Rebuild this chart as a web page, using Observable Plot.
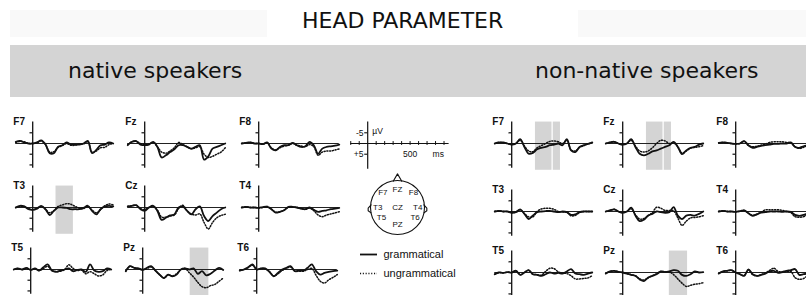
<!DOCTYPE html>
<html><head><meta charset="utf-8">
<script src="https://cdn.jsdelivr.net/npm/d3@7"></script>
<script src="https://cdn.jsdelivr.net/npm/@observablehq/plot@0.6"></script>
<style>
body{margin:0;background:#fff;}
#root{position:relative;width:806px;height:295px;overflow:hidden;font-family:"DejaVu Sans";background:#fff;}
.abs{position:absolute;}
.hdr{position:absolute;font-family:"DejaVu Sans";font-size:22px;color:#111;white-space:nowrap;line-height:1;}
</style></head><body><div id="root"></div>
<script>
// time samples (ms)
const times = [-200,-150,-100,-50,0,50,100,150,200,250,300,350,400,450,500,550,600,650,700,750,800,850,900,950];
const electrodes = ["F7","Fz","F8","T3","Cz","T4","T5","Pz","T6"];
const conditions = ["grammatical","ungrammatical"];
const groups = ["native speakers","non-native speakers"];
const title = "HEAD PARAMETER";

// native speakers (µV, negative plotted up)
const nativeF7G = [-0.8,-1.2,-0.5,0,0,-0.5,-1.5,0.3,4.5,4.5,1.5,0.8,-0.5,0.5,0.5,0.5,0,-1.2,4.5,3,0.8,0.5,-0.5,0];
const nativeF7U = [-0.5,-1,-0.8,0,0,-0.3,-1.2,0.5,4,3.8,1.8,1,0,0.8,0.8,0.3,0.2,-0.8,4,3.5,2,1.8,0.5,0];
const nativeFzG = [0.8,-0.8,-1.1,0.5,0.8,0.5,-0.8,1.6,6.5,5.5,4,2.7,0.8,0.8,1.6,2.4,1.6,0.8,7.5,6,2.4,1.6,0.8,0];
const nativeFzU = [0.5,-0.8,-1,0,0.5,0.3,-0.5,1.5,4,4.5,3.5,2,-0.5,0.5,1.5,2.5,2,1.5,5,6.5,6,5,4,2];
const nativeF8G = [0,-0.3,-0.5,0,0,0.3,-0.5,2.4,3.2,1.6,0.8,0.8,-0.3,0.8,1.6,1.3,-0.8,0.8,4.8,2.4,1.6,1.3,1,0.5];
const nativeF8U = [0,-0.3,-0.5,0,0,0.3,-0.3,2,3,2,1.2,0.8,0,0.8,1.2,1.5,0.5,1.5,5.5,4,3.5,3.5,3,2.5];
const nativeT3G = [0,-0.8,-0.5,0.8,1.1,0.5,-0.8,0.8,3.5,1.6,0,0,0.2,0.8,0.8,0.8,0.2,-0.8,1.6,3.2,0.8,-0.5,-0.8,-0.5];
const nativeT3U = [0,-0.5,-0.5,0.5,1,0.5,-0.5,0.8,2.5,1.5,-0.5,-1.2,-1.8,-1.5,-0.5,0.3,0.5,-0.5,1.2,2.5,1,-0.8,-1.6,-1.2];
const nativeCzG = [-0.5,-0.8,-1.1,0.8,1.5,0,-0.8,1.6,5.8,4.8,3.7,3.2,0,-0.5,1.6,3.2,0.8,-0.5,4,6.3,4,2.4,0.8,0];
const nativeCzU = [-0.5,-0.8,-1,0.5,1,0,-0.5,1.2,4.5,4.5,4,3.5,0.5,-1,1.5,3,3.5,3,7,10,7,4.8,3.7,3.2];
const nativeT4G = [0,-0.3,0,0,0.2,-0.2,-0.3,0.8,2.4,2,1.3,-0.3,-0.3,0,0.5,0.8,0,1.1,2,1.6,1.3,0.8,0.5,0.2];
const nativeT4U = [0,-0.3,0,0,0.2,0,-0.5,0.8,2.2,2,1.2,0,-0.2,0,0.5,0.8,0.3,1.5,3.5,4.3,3.5,3,2.5,2];
const nativeT5G = [0,-0.5,0,-0.8,0.2,-0.5,0.5,-1.1,-2.4,0.5,1.1,0.5,0,-0.5,0.8,0.2,0,1.1,-2.4,0.5,1.1,0.8,-0.5,0];
const nativeT5U = [0,-0.5,0,-0.5,0,-0.3,0.5,-0.5,-1.5,0.5,1,0.8,0,-2.2,-0.5,0.5,0.3,2,1,2,3,2.5,0.5,0];
const nativePzG = [0.8,-1.6,-0.8,-0.5,0.2,-0.8,-1.6,0.5,2.4,4,2.4,3.2,2.4,0,-0.5,0,-0.5,2,0.8,2.7,2,0.5,-0.8,0.2];
const nativePzU = [0.8,-1.5,-0.8,-0.5,0,-0.5,-1.2,0.5,2.5,4,2.5,3,2,0,-0.5,1.5,3.5,6,8,8.5,7.5,7,5.5,4];
const nativeT6G = [0.5,0,-1,-2.4,0,-0.5,-0.5,1.1,3.2,1.6,0,-0.8,-1.6,0.8,0.5,0.5,-0.8,-2.4,0.8,2.4,1.6,1.1,0.8,0.5];
const nativeT6U = [0.5,0,-1,-2,0,-0.5,-0.3,1,3,2,0.5,-0.5,-1.2,0.8,0.8,0.8,0,-0.5,2.7,5.5,6.3,4.8,3.7,2.4];

// non-native speakers
const nonNativeF7G = [0,-0.5,-0.5,0,0.5,0,-2,1.6,4.8,4.4,2.7,2,1.6,0.8,0.5,0,0.8,-2,3.2,4,1.6,0.8,0.2,-0.5];
const nonNativeF7U = [0,-0.5,-0.3,0,0.5,0,-1.5,1.2,3.5,3.8,2,1,0,-1,-1.2,-0.8,0,-1.5,3,3.5,1.8,1,0.2,-0.3];
const nonNativeFzG = [0,-0.5,-0.8,0,0.5,0,-2,1.6,4.8,5.5,4.8,3.7,3.2,2.4,1.6,0.8,-0.8,1.6,5,3.2,2,1.6,0.5,0];
const nonNativeFzU = [0,-0.5,-0.8,0,0.5,0,-1.5,1.2,3.5,4,3.5,2,0,-1.5,-1.2,0,-0.3,1.5,4.5,3.5,2.2,1.8,1.5,1];
const nonNativeF8G = [-0.3,-0.5,-0.3,0,0.2,0,-1.1,0.8,2,1.6,1.1,0.8,0.5,0.2,0.2,0,0,-0.5,1.6,2,1.3,0.8,0.5,0.2];
const nonNativeF8U = [-0.3,-0.5,-0.3,0,0.2,0,-1,1,1.5,1.3,0.8,0.3,-0.5,-0.8,-0.8,-0.8,-0.5,-0.3,1.5,2.3,1.8,1,0.5,0.2];
const nonNativeT3G = [0,-0.3,0,0,0.6,0.3,-1,1.1,3.5,1.9,0.3,0,-0.2,-0.3,0,0.3,0,0.3,1.6,1.3,0.3,0,0,0];
const nonNativeT3U = [0,-0.3,0,0,0.5,0.3,-0.8,1,2.5,2.5,0,-1.2,-1.5,-1.5,-1,0,0.2,0.3,2,1.8,0.5,0,0,0];
const nonNativeCzG = [0,-0.5,-1,0,0.6,0,-1.8,1.9,4.5,3.8,1.9,1.1,0,0.3,0.6,0.3,-2,1.9,3.5,1.9,1.6,1.9,1.1,0];
const nonNativeCzU = [0,-0.5,-1,0,0.5,0,-1.3,1.5,3.5,3.3,2,0.5,-2,-1.5,-0.5,-0.5,-0.3,3,6.5,4.5,3,2.8,2.5,2];
const nonNativeT4G = [0,-0.3,0,0,0.2,-0.2,-0.5,0.8,2,1.3,0.5,0.3,0,0,0,0.2,0,0.2,1.6,2,1.6,1,0.5,0.3];
const nonNativeT4U = [0,-0.3,0,0,0.2,-0.2,-0.5,0.8,1.8,1.3,0.3,-0.8,-0.8,-0.8,-0.8,-0.5,0,0.5,2.4,2.7,2.4,1.5,1,0.5];
const nonNativeT5G = [0.8,0,0.2,-0.2,0,-0.8,1.1,0,-1.1,0.8,1.1,1.6,0.8,0,0.5,0.2,0.5,-0.5,-1.6,0.5,0.8,1.1,0.5,0];
const nonNativeT5U = [0.8,0,0.2,-0.2,0,-0.8,1,0,-1,0.8,1,1.2,-0.5,-2,-1.8,-0.3,0.3,0.5,1.5,3,3,2.8,2.5,1.5];
const nonNativePzG = [0.5,-0.5,-0.8,-0.3,0,0.5,1.1,1.6,3.2,4,2.4,1.6,0.8,-0.5,-0.2,-0.5,-1.1,-0.8,1.1,1.6,0.8,-0.5,0,-0.2];
const nonNativePzU = [0.5,-0.5,-0.8,-0.3,0,0.5,1,1.5,3,3.5,2.5,1.5,0.5,-0.5,-0.3,-0.3,1,3,5,6.5,6,5.5,5.2,4.8];
const nonNativeT6G = [0.5,-0.5,-0.8,-1.1,0,0.8,1.6,-1.5,0.8,1.6,1.1,0.5,-0.5,-0.8,0.2,-0.2,-0.8,-1.1,-1.6,1.1,0.8,0.5,0.3,0];
const nonNativeT6U = [0.5,-0.5,-0.8,-1,0,0.8,1.4,-1.2,1,1.5,1,0.2,-1,-2,-0.5,-0.3,-0.5,-0.5,2.4,3.2,2.8,1.5,1,0.5];

// significant time windows (ms)
const nativeT3Window = [[275, 480]];
const nativePzWindow = [[560, 780]];
const nonNativeF7Windows = [[280, 475], [490, 575]];
const nonNativeFzWindows = [[280, 475], [490, 575]];
const nonNativePzWindow = [[550, 765]];

// scale-bar ticks and labels
const scaleTimeTicks = [-200,-100,100,200,300,400,500,600,700,800,900];
const scaleVoltTicks = [-5, 5];
const scaleVoltLabels = ["-5", "+5"];
const scaleTimeLabel = "500";

// electrode montage (unit head radius, y downward = posterior)
const montageNames = ["F7","FZ","F8","T3","CZ","T4","T5","T6","PZ"];
const montageX = [-0.55, 0, 0.6, -0.74, 0, 0.76, -0.6, 0.66, 0];
const montageY = [-0.55, -0.66, -0.55, 0.0, -0.02, 0.0, 0.38, 0.38, 0.64];

const root = document.getElementById("root");
function place(node, left, top) {
  node.style.position = "absolute";
  node.style.left = left + "px";
  node.style.top = top + "px";
  root.appendChild(node);
}
function div(cls, left, top, w, h, bg) {
  const d = document.createElement("div");
  d.className = cls;
  Object.assign(d.style, {left: left+"px", top: top+"px", width: w+"px", height: h+"px", background: bg, position: "absolute"});
  root.appendChild(d);
  return d;
}

// header backgrounds
div("abs", 10, 10, 796, 27, "#f9f9f9");
div("abs", 267, 10, 311, 27, "#ffffff");
div("abs", 10, 45, 796, 52, "#d4d4d4");
const t = document.createElement("div"); t.className = "hdr"; t.textContent = title; place(t, 302, 10);
const g1 = document.createElement("div"); g1.className = "hdr"; g1.textContent = groups[0]; place(g1, 68, 60);
const g2 = document.createElement("div"); g2.className = "hdr"; g2.textContent = groups[1]; place(g2, 535, 60);

// panel geometry
const PW = 106, PH = 60;
const X0 = -250, X1 = 1000, Y0 = 14, Y1 = -14;
const axisOffset = (0 - X0) * PW / (X1 - X0);
const baseOffset = PH / 2;

function erpPanel(label, g, u, windows, axisX, baseY) {
  const gd = times.map((t, i) => ({t, v: g[i]}));
  const ud = times.map((t, i) => ({t, v: u[i]}));
  const svg = Plot.plot({
    width: PW, height: PH, margin: 0,
    style: {background: "transparent", overflow: "visible"},
    x: {domain: [X0, X1], axis: null},
    y: {domain: [Y0, Y1], axis: null},
    marks: [
      Plot.rect(windows, {x1: d => d[0], x2: d => d[1], y1: -10, y2: 12.5, fill: "#d4d4d4"}),
      Plot.ruleY([0], {x1: -200, x2: 950, stroke: "#222", strokeWidth: 1}),
      Plot.ruleX([0], {y1: -10, y2: 11.5, stroke: "#111", strokeWidth: 1.3}),
      Plot.ruleY([-5, 5, 10], {x1: -32, x2: 0, stroke: "#111", strokeWidth: 1.2}),
      Plot.line(ud, {x: "t", y: "v", stroke: "#111", strokeWidth: 1.5, strokeDasharray: "1.1,1.7", curve: "catmull-rom"}),
      Plot.line(gd, {x: "t", y: "v", stroke: "#111", strokeWidth: 1.8, curve: "catmull-rom"}),
      Plot.text([label], {x: -228, y: -10.3, text: d => d, textAnchor: "start", fontFamily: "Liberation Sans", fontWeight: 900, fontSize: 10, fill: "#111", letterSpacing: -0.5})
    ]
  });
  place(svg, axisX - axisOffset, baseY - baseOffset);
}

const nativeSeries = [
  [nativeF7G, nativeF7U, []], [nativeFzG, nativeFzU, []], [nativeF8G, nativeF8U, []],
  [nativeT3G, nativeT3U, nativeT3Window], [nativeCzG, nativeCzU, []], [nativeT4G, nativeT4U, []],
  [nativeT5G, nativeT5U, []], [nativePzG, nativePzU, nativePzWindow], [nativeT6G, nativeT6U, []]
];
const nonNativeSeries = [
  [nonNativeF7G, nonNativeF7U, nonNativeF7Windows], [nonNativeFzG, nonNativeFzU, nonNativeFzWindows], [nonNativeF8G, nonNativeF8U, []],
  [nonNativeT3G, nonNativeT3U, []], [nonNativeCzG, nonNativeCzU, []], [nonNativeT4G, nonNativeT4U, []],
  [nonNativeT5G, nonNativeT5U, []], [nonNativePzG, nonNativePzU, nonNativePzWindow], [nonNativeT6G, nonNativeT6U, []]
];
const nativeAxisX = [[32,144,258],[32,144,258],[30,142,256]];
const nativeBaseY = [143, 207, 269];
const nnAxisX = [[511,622,735],[511,622,735],[511,622,735]];
const nnBaseY = [143, 211, 272];

electrodes.forEach((e, i) => {
  const r = Math.floor(i / 3), c = i % 3;
  const [ng, nu, nw] = nativeSeries[i];
  erpPanel(e, ng, nu, nw, nativeAxisX[r][c], nativeBaseY[r]);
  const [mg, mu, mw] = nonNativeSeries[i];
  erpPanel(e, mg, mu, mw, nnAxisX[r][c], nnBaseY[r]);
});

// scale bar
{
  const svg = Plot.plot({
    width: PW + 20, height: PH, margin: 0, marginRight: 20,
    style: {background: "transparent", overflow: "visible"},
    x: {domain: [X0, X1], axis: null},
    y: {domain: [Y0, Y1], axis: null},
    marks: [
      Plot.ruleX([0], {y1: -10, y2: 12, stroke: "#111", strokeWidth: 1.2}),
      Plot.ruleY([0], {x1: -200, x2: 960, stroke: "#111", strokeWidth: 1.2}),
      Plot.ruleX(scaleTimeTicks, {y1: -0.9, y2: 0.9, stroke: "#111", strokeWidth: 1}),
      Plot.ruleY(scaleVoltTicks, {x1: -35, x2: 0, stroke: "#111", strokeWidth: 1.1}),
      Plot.text(scaleVoltTicks, {x: -50, y: d => d, text: (d, i) => scaleVoltLabels[i], textAnchor: "end", fontFamily: "Liberation Sans", fontSize: 8.5, fill: "#111"}),
      Plot.text([scaleTimeLabel], {x: 500, y: 4.8, text: d => d, fontFamily: "Liberation Sans", fontSize: 8.5, letterSpacing: -0.6, fill: "#111"}),
      Plot.text(["ms"], {x: 765, y: 4.8, text: d => d, textAnchor: "start", fontFamily: "Liberation Sans", fontSize: 8.5, fill: "#111"}),
      Plot.text(["µV"], {x: 55, y: -5.5, text: d => d, textAnchor: "start", fontFamily: "Liberation Sans", fontSize: 8.5, fill: "#111"})
    ]
  });
  place(svg, 367 - axisOffset, 143 - baseOffset);
}

// head diagram
{
  const HS = 80, HD = 1.5;
  const svg = Plot.plot({
    width: HS, height: HS, margin: 0,
    style: {background: "transparent", overflow: "visible"},
    x: {domain: [-HD, HD], axis: null},
    y: {domain: [HD, -HD], axis: null},
    marks: [
      Plot.line([[-0.16,-0.985],[0,-1.26],[0.16,-0.985]], {x: d => d[0], y: d => d[1], stroke: "#111", strokeWidth: 1.1}),
      Plot.line([[-0.99,-0.1],[-1.1,0.02],[-1.1,0.12],[-0.99,0.2]], {x: d => d[0], y: d => d[1], stroke: "#111", strokeWidth: 1.1}),
      Plot.line([[0.99,-0.1],[1.1,0.02],[1.1,0.12],[0.99,0.2]], {x: d => d[0], y: d => d[1], stroke: "#111", strokeWidth: 1.1}),
      Plot.dot([0], {x: 0, y: 0, r: 27, stroke: "#111", strokeWidth: 1.1, fill: "none"}),
      Plot.text(montageNames, {x: (d, i) => montageX[i], y: (d, i) => montageY[i], text: d => d, fontFamily: "Liberation Sans", fontSize: 8, fill: "#111"})
    ]
  });
  place(svg, 397 - HS/2, 207 - HS/2);
}

// condition legend
{
  const svg = Plot.plot({
    width: 120, height: 40, margin: 0,
    style: {background: "transparent", overflow: "visible"},
    x: {domain: [0, 120], axis: null},
    y: {domain: [40, 0], axis: null},
    marks: [
      Plot.ruleY([conditions[0]], {y: 10, x1: 5, x2: 22, stroke: "#111", strokeWidth: 1.8}),
      Plot.ruleY([conditions[1]], {y: 29, x1: 5, x2: 22, stroke: "#111", strokeWidth: 1.5, strokeDasharray: "1.1,1.7"}),
      Plot.text(conditions, {x: 28, y: (d, i) => 10 + i * 19, text: d => d, textAnchor: "start", fontFamily: "Liberation Sans", fontSize: 11, fill: "#111"})
    ]
  });
  place(svg, 355, 244);
}
</script>
</body></html>
